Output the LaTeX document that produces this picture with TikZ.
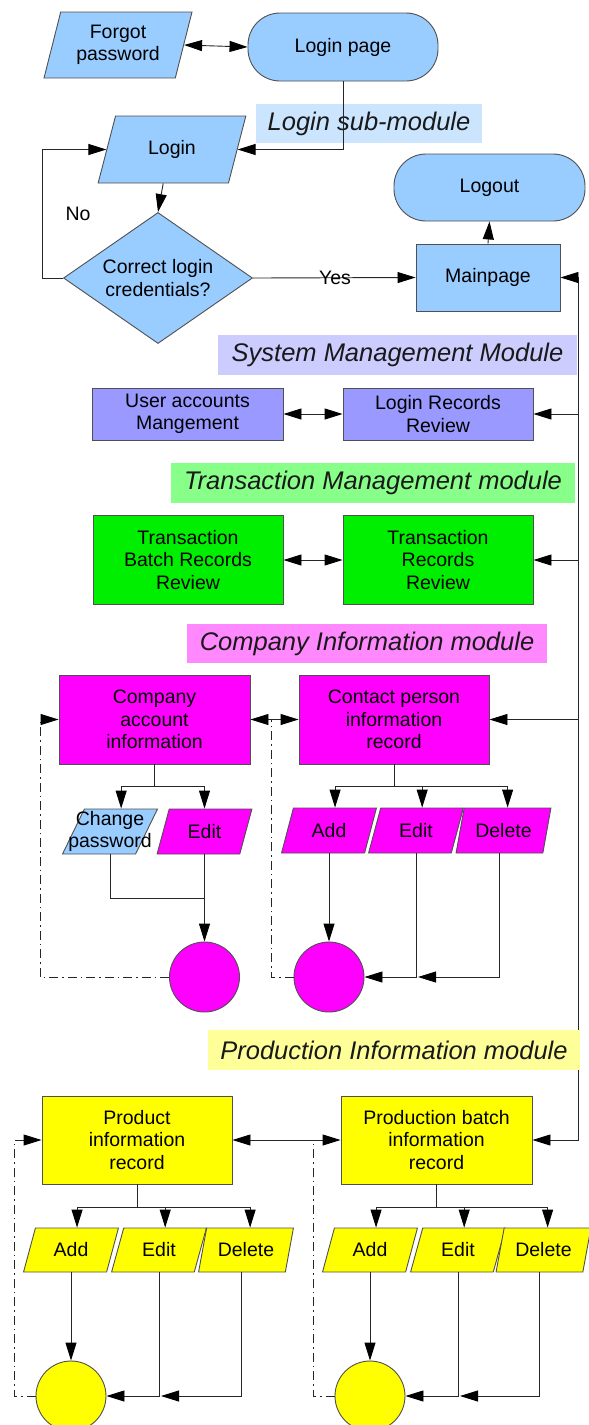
\documentclass[tikz,border=0pt]{standalone}
\usepackage{fontspec}
\setmainfont{Liberation Sans}
\usetikzlibrary{shapes.geometric,arrows.meta,calc}

\definecolor{lblue}{HTML}{99CCFF}
\definecolor{loginlab}{HTML}{CCE5FF}
\definecolor{syslab}{HTML}{CCCCFF}
\definecolor{sysnode}{HTML}{9999FF}
\definecolor{translab}{HTML}{88FF88}
\definecolor{transnode}{HTML}{00EE00}
\definecolor{complab}{HTML}{FF88FF}
\definecolor{compnode}{HTML}{FF00FF}
\definecolor{prodlab}{HTML}{FFFF99}
\definecolor{prodnode}{HTML}{FFFF00}
\definecolor{edge}{HTML}{505050}

\newcommand\boxtextfont{\fontsize{19.5pt}{22.3pt}\selectfont}
\newcommand\moduletextfont{\fontsize{25.5pt}{29pt}\selectfont\itshape}

\tikzset{
  base/.style={draw=edge, line width=0.9pt, font=\boxtextfont, align=center, inner sep=0pt},
  box/.style={base, rectangle},
  term/.style={base, rectangle, rounded corners=32pt},
  bigpara/.style={base, trapezium, trapezium stretches=true,
    trapezium left angle=68, trapezium right angle=112,
    minimum width=148pt, minimum height=67pt},
  smallpara/.style={base, trapezium, trapezium stretches=true,
    trapezium left angle=68, trapezium right angle=112,
    minimum width=95pt, minimum height=45pt},
  endpoint/.style={base, circle, minimum size=70pt},
  modlabel/.style={rectangle, inner sep=0pt, font=\moduletextfont, text=black!90},
  plaintext/.style={inner sep=0pt, font=\boxtextfont},
  line/.style={draw=black!85, line width=0.9pt},
  arr/.style={line, -{Triangle[length=18pt,width=11pt,color=black]}},
  dbl/.style={line, {Triangle[length=18pt,width=11pt,color=black]}-{Triangle[length=18pt,width=11pt,color=black]}},
  dd/.style={dash pattern=on 9pt off 4pt on 1.5pt off 4pt},
}

\begin{document}
\begin{tikzpicture}[x=1pt, y=-1pt]
\useasboundingbox (0,0) rectangle (589,1425);

% ---------------- Login sub-module ----------------
\node[bigpara, fill=lblue, minimum height=66pt,
      trapezium left angle=73, trapezium right angle=107] (forgot) at (118,45) {Forgot\\password};
\node[term, fill=lblue, minimum width=190pt, minimum height=68pt] (loginpage) at (343,47) {Login page};
\node[modlabel, fill=loginlab, minimum width=226pt, minimum height=39pt] (loginlab) at (369,123.5) {Login sub-module};
\node[bigpara, fill=lblue] (login) at (172,149.5) {Login};
\node[base, diamond, fill=lblue, minimum width=189pt, minimum height=131pt, shape aspect=1.44] (check) at (158,278) {Correct login\\credentials?};
\node[term, fill=lblue, minimum width=191pt, minimum height=67pt] (logout) at (489.5,187.5) {Logout};
\node[box, fill=lblue, minimum width=144pt, minimum height=67pt] (mainpage) at (488,277.5) {Mainpage};

\draw[dbl] (forgot.right side) -- (loginpage.west);
\draw[arr] (loginpage.south) |- (login.right side);
\draw[arr] (login.bottom side) -- (check.north);
\draw[arr] (check.west) -- ++(-21,0) |- (login.left side);
\draw[arr] (check.east) -- (mainpage.west);
\draw[arr] (mainpage.north) -- (logout.south);
\node[plaintext] (no) at (78,214) {No};
\node[plaintext] (yes) at (335,278) {Yes};

% ---------------- main bus on the right ----------------
\coordinate (bustop) at (578.5,277.5);
\coordinate (busbot) at (578.5,1140);
\draw[line] (bustop) -- (busbot);
\draw[arr] (bustop) -- (mainpage.east);

% ---------------- System Management Module ----------------
\node[modlabel, fill=syslab, minimum width=359pt, minimum height=40pt] (syslab) at (397.5,355) {System Management Module};
\node[box, fill=sysnode, minimum width=191pt, minimum height=52pt] (uam) at (187.5,414) {User accounts\\Mangement};
\node[box, fill=sysnode, minimum width=190pt, minimum height=52pt] (lrr) at (438,414) {Login Records\\Review};
\draw[dbl] (uam.east) -- (lrr.west);
\draw[arr] (lrr.east -| bustop) -- (lrr.east);

% ---------------- Transaction Management module ----------------
\node[modlabel, fill=translab, minimum width=404pt, minimum height=40pt] (translab) at (373,483) {Transaction Management module};
\node[box, fill=transnode, minimum width=190pt, minimum height=89pt] (tbr) at (188,560) {Transaction\\Batch Records\\Review};
\node[box, fill=transnode, minimum width=190pt, minimum height=89pt] (trr) at (438,560) {Transaction\\Records\\Review};
\draw[dbl] (tbr.east) -- (trr.west);
\draw[arr] (trr.east -| bustop) -- (trr.east);

% ---------------- Company Information module ----------------
\node[modlabel, fill=complab, minimum width=360pt, minimum height=39pt] (complab) at (367,643.5) {Company Information module};
\node[box, fill=compnode, minimum width=191pt, minimum height=89pt] (cai) at (154.5,719.5) {Company\\account\\information};
\node[box, fill=compnode, minimum width=190pt, minimum height=89pt] (cpi) at (394,719.5) {Contact person\\information\\record};
\draw[dbl] (cai.east) -- (cpi.west);
\draw[arr] (cpi.east -| bustop) -- (cpi.east);

% the caption of this box is wider than the box itself
\node[smallpara, fill=lblue, label={[plaintext, align=center]center:Change\\password}] (chg) at (110,831.5) {\phantom{x}};
\node[smallpara, fill=compnode] (ced) at (204.5,831.5) {Edit};
\node[smallpara, fill=compnode] (add2) at (329,830.5) {Add};
\node[smallpara, fill=compnode] (ed2) at (416,830.5) {Edit};
\node[smallpara, fill=compnode] (del2) at (503.5,830.5) {Delete};
\node[endpoint, fill=compnode] (c1) at (204.5,977) {};
\node[endpoint, fill=compnode] (c2) at (329,977) {};

\draw[line] (cai.south) -- ++(0,22) coordinate (cajn);
\draw[arr] (cajn) -| (chg.top side);
\draw[arr] (cajn) -| (ced.center |- ced.top side);
\draw[line] (chg.center |- chg.bottom side) -- ++(0,44) -| (ced.center |- ced.bottom side);
\draw[arr] (ced.center |- ced.bottom side) -- (c1.north);
\draw[arr, dd] (c1.west) -- ++(-129,0) |- (cai.west);

\draw[line] (cpi.south) -- ++(0,22) coordinate (cpjn);
\draw[arr] (cpjn) -| (add2.top side);
\draw[arr] (cpjn) -| (ed2.top side);
\draw[arr] (cpjn) -| (del2.top side);
\draw[arr] (add2.center |- add2.bottom side) -- (c2.north);
\draw[arr] (ed2.center |- ed2.bottom side) |- (c2.east);
\draw[arr, shorten >=2pt] (del2.bottom side) |- (ed2.center |- c2.east);
\draw[line, dd] (c2.west) -| ($(cai.east)!0.43!(cpi.west)$);

% ---------------- Production Information module ----------------
\node[modlabel, fill=prodlab, minimum width=372pt, minimum height=40pt] (prodlab) at (394,1050) {Production Information module};
\node[box, fill=prodnode, minimum width=190pt, minimum height=88pt] (pir) at (137,1140) {Product\\information\\record};
\node[box, fill=prodnode, minimum width=191pt, minimum height=88pt] (pbr) at (436.5,1140) {Production batch\\information\\record};
\draw[dbl] (pir.east) -- (pbr.west);
\draw[arr] (busbot) -- (pbr.east);

\node[smallpara, fill=prodnode, minimum height=44pt] (add3) at (71,1250) {Add};
\node[smallpara, fill=prodnode, minimum height=44pt] (ed3) at (159,1250) {Edit};
\node[smallpara, fill=prodnode, minimum height=44pt] (del3) at (246,1250) {Delete};
\node[smallpara, fill=prodnode, minimum height=44pt] (add4) at (370,1250) {Add};
\node[smallpara, fill=prodnode, minimum height=44pt] (ed4) at (458,1250) {Edit};
\node[smallpara, fill=prodnode, minimum height=44pt] (del4) at (543.5,1250) {Delete};
\node[endpoint, fill=prodnode] (c3) at (71,1396) {};
\node[endpoint, fill=prodnode] (c4) at (370,1396) {};

\draw[line] (pir.south) -- ++(0,23) coordinate (pijn);
\draw[arr] (pijn) -| (add3.top side);
\draw[arr] (pijn) -| (ed3.top side);
\draw[arr] (pijn) -| (del3.top side);
\draw[arr] (add3.center |- add3.bottom side) -- (c3.north);
\draw[arr] (ed3.center |- ed3.bottom side) |- (c3.east);
\draw[arr, shorten >=2pt] (del3.bottom side) |- (ed3.center |- c3.east);
\draw[arr, dd] (c3.west) -- ++(-21,0) |- (pir.west);

\draw[line] (pbr.south) -- ++(0,23) coordinate (pbjn);
\draw[arr] (pbjn) -| (add4.top side);
\draw[arr] (pbjn) -| (ed4.top side);
\draw[arr] (pbjn) -| (del4.top side);
\draw[arr] (add4.center |- add4.bottom side) -- (c4.north);
\draw[arr] (ed4.center |- ed4.bottom side) |- (c4.east);
\draw[arr, shorten >=2pt] (del4.bottom side) |- (ed4.center |- c4.east);
\draw[line, dd] (c4.west) -| ($(pir.east)!0.75!(pbr.west)$);
\end{tikzpicture}
\end{document}
